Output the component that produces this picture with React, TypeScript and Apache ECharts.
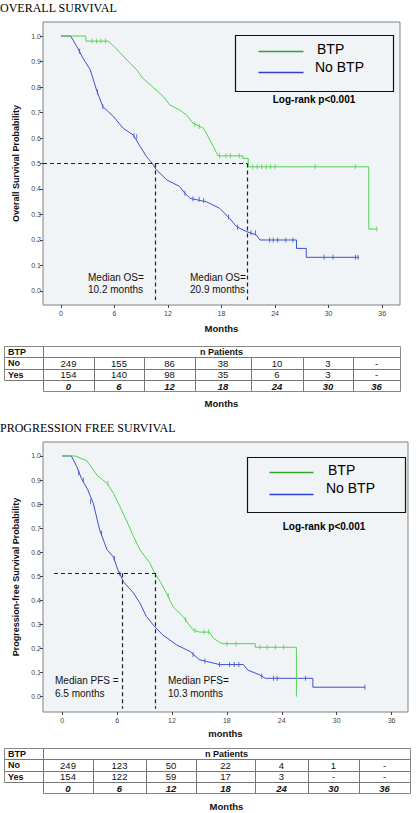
import React, { useEffect, useRef } from "react";
import * as echarts from "echarts";

// ---------- DATA ----------
const monthTicks = [0, 6, 12, 18, 24, 30, 36];
const probTicks = [0, 0.1, 0.2, 0.3, 0.4, 0.5, 0.6, 0.7, 0.8, 0.9, 1.0];

// Overall survival – BTP (green)
const osBTP: [number, number][] = [
  [0, 1], [2.8, 1], [2.8, 0.98], [5.3, 0.98], [6, 0.958], [7.4, 0.906], [8.5, 0.867],
  [9.2, 0.834], [10.3, 0.8], [11.5, 0.762], [12.2, 0.73], [13.3, 0.71], [14.1, 0.69],
  [14.8, 0.658], [16, 0.638], [16.5, 0.605], [17.1, 0.566], [17.6, 0.53], [20.4, 0.53],
  [20.4, 0.52], [21.0, 0.52], [21.0, 0.487], [34.5, 0.487], [34.5, 0.243], [35.4, 0.243],
];
// Overall survival – No BTP (blue)
const osNoBTP: [number, number][] = [
  [0, 1], [1.1, 1.0], [1.8, 0.958], [2.5, 0.912], [3.3, 0.867], [4.0, 0.788], [4.7, 0.723],
  [5.9, 0.684], [7.0, 0.638], [8.1, 0.612], [8.9, 0.566], [9.6, 0.527], [10.3, 0.498],
  [10.7, 0.475], [11.9, 0.435], [13.3, 0.41], [13.9, 0.383], [14.5, 0.363], [16.3, 0.35],
  [17.8, 0.324], [18.9, 0.285], [19.7, 0.252], [20.8, 0.233], [21.9, 0.22], [22.3, 0.2],
  [26.4, 0.2], [26.4, 0.167], [27.5, 0.167], [27.5, 0.132], [33.4, 0.132],
];
const osBTPCensor: [number, number][] = [
  [3.5, 0.98], [4, 0.98], [4.5, 0.98], [5, 0.98], [15, 0.655], [15.5, 0.645], [17.8, 0.53],
  [18.5, 0.53], [19, 0.53], [20, 0.53], [21.5, 0.487], [22, 0.487], [22.5, 0.487], [23, 0.487],
  [23.5, 0.487], [24, 0.487], [28.5, 0.487], [33, 0.487], [35.4, 0.243],
];
const osNoBTPCensor: [number, number][] = [
  [2.1, 0.94], [4.1, 0.78], [4.7, 0.723], [8.2, 0.61], [8.5, 0.605], [13.9, 0.383],
  [14.8, 0.362], [15.5, 0.36], [16, 0.355], [18.8, 0.29], [19.8, 0.25], [21.3, 0.228],
  [21.8, 0.228], [23.4, 0.2], [23.8, 0.2], [24.3, 0.2], [25.2, 0.2], [26, 0.2], [29.5, 0.132],
  [30.5, 0.132], [33, 0.132], [33.3, 0.132],
];

// Progression free survival – BTP (green)
const pfsBTP: [number, number][] = [
  [0, 1], [1.4, 1.0], [2.7, 0.98], [3.8, 0.92], [4.9, 0.886], [5.6, 0.845], [6.3, 0.79],
  [7.0, 0.734], [7.8, 0.665], [8.5, 0.61], [9.6, 0.554], [10.1, 0.513], [10.7, 0.478],
  [11.4, 0.43], [12.1, 0.374], [13.2, 0.333], [14.3, 0.277], [15.0, 0.268], [16.1, 0.268],
  [16.5, 0.243], [17.2, 0.226], [17.5, 0.22], [21.1, 0.22], [21.1, 0.205], [25.6, 0.205],
  [25.6, 0.0],
];
// Progression free survival – No BTP (blue)
const pfsNoBTP: [number, number][] = [
  [0, 1], [1.0, 1.0], [1.6, 0.955], [2.1, 0.907], [2.8, 0.859], [3.4, 0.803], [4.1, 0.692],
  [4.9, 0.61], [5.6, 0.58], [6.1, 0.525], [6.7, 0.477], [7.8, 0.43], [8.5, 0.388],
  [9.2, 0.333], [10.1, 0.291], [11.0, 0.256], [12.5, 0.215], [14.0, 0.187], [15.0, 0.153],
  [15.8, 0.146], [17.2, 0.133], [19.8, 0.133], [20.3, 0.11], [21.6, 0.09], [22.2, 0.076],
  [27.4, 0.076], [27.4, 0.039], [33.1, 0.039],
];
const pfsBTPCensor: [number, number][] = [
  [5, 0.886], [11.6, 0.42], [13.5, 0.32], [14.5, 0.275], [15.5, 0.268], [16, 0.268],
  [18, 0.22], [19, 0.22], [21.6, 0.205], [22.4, 0.205], [23.3, 0.205], [24.2, 0.205],
];
const pfsNoBTPCensor: [number, number][] = [
  [1.8, 0.93], [2.3, 0.9], [3.1, 0.81], [4.3, 0.68], [5.7, 0.575], [6.3, 0.51], [14.3, 0.175],
  [15.6, 0.148], [17.2, 0.133], [18.3, 0.133], [18.8, 0.133], [19.3, 0.133], [21.8, 0.085],
  [23.1, 0.076], [23.5, 0.076], [26.6, 0.076], [33.1, 0.039],
];

// medians (drawn positions)
const osMedianNo = 10.6;
const osMedianYes = 20.9;
const osMedianLevel = 0.5;
const pfsMedianNo = 6.55;
const pfsMedianYes = 10.2;
const pfsMedianLevel = 0.513;

// number at risk tables
const tableTimes = ["0", "6", "12", "18", "24", "30", "36"];
const osNoCounts = ["249", "155", "86", "38", "10", "3", "-"];
const osYesCounts = ["154", "140", "98", "35", "6", "3", "-"];
const pfsNoCounts = ["249", "123", "50", "22", "4", "1", "-"];
const pfsYesCounts = ["154", "122", "59", "17", "3", "-", "-"];

// ---------- STYLE ----------
const SANS = "Liberation Sans, Arial, sans-serif";
const SERIF = "Liberation Serif, Times New Roman, serif";
const GREEN = "#52D452";
const BLUE = "#3D50CF";
const LEG_GREEN = "#2FA52F";
const LEG_BLUE = "#2B40D4";

function px(v: number) {
  return Math.round(v) + 0.5;
}

function lineEl(xa: number, ya: number, xb: number, yb: number, color = "#777", w = 1) {
  return {
    type: "line",
    silent: true,
    shape: { x1: px(xa), y1: px(ya), x2: px(xb), y2: px(yb) },
    style: { stroke: color, lineWidth: w },
  };
}

function textEl(x: number, y: number, text: string, opts: any = {}) {
  return {
    type: "text",
    silent: true,
    x,
    y,
    style: {
      text,
      fontFamily: SANS,
      fontSize: 9,
      fill: "#111",
      align: "center",
      verticalAlign: "middle",
      ...opts,
    },
  };
}

function tableEls(cols: number[], y0: number, rowH: number, no: string[], yes: string[], months: string, monthsY: number) {
  const els: any[] = [];
  const x0 = cols[0];
  const x1 = cols[1];
  const xr = cols[cols.length - 1];
  const ys = [0, 1, 2, 3, 4].map((i) => y0 + i * rowH);
  els.push(lineEl(x0, ys[0], xr, ys[0], "#888"));
  els.push(lineEl(x0, ys[1], xr, ys[1]));
  els.push(lineEl(x0, ys[2], xr, ys[2]));
  els.push(lineEl(x0, ys[3], xr, ys[3]));
  els.push(lineEl(x1, ys[4], xr, ys[4], "#888"));
  els.push(lineEl(x0, ys[0], x0, ys[3], "#888"));
  els.push(lineEl(x1, ys[0], x1, ys[4]));
  for (let c = 2; c < cols.length - 1; c++) els.push(lineEl(cols[c], ys[1], cols[c], ys[4]));
  els.push(lineEl(xr, ys[0], xr, ys[4], "#888"));
  const mid = (i: number) => (cols[i] + cols[i + 1]) / 2;
  const rowMid = (r: number) => ys[r] + rowH / 2 + 0.5;
  els.push(textEl(x0 + 4, rowMid(0), "BTP", { align: "left", fontWeight: "bold" }));
  els.push(textEl(x0 + 4, rowMid(1), "No", { align: "left", fontWeight: "bold" }));
  els.push(textEl(x0 + 4, rowMid(2), "Yes", { align: "left", fontWeight: "bold" }));
  els.push(textEl((x1 + xr) / 2, rowMid(0), "n Patients", { fontWeight: "bold" }));
  for (let i = 0; i < no.length; i++) {
    els.push(textEl(mid(i + 1), rowMid(1), no[i], { fontSize: 9.5 }));
    els.push(textEl(mid(i + 1), rowMid(2), yes[i], { fontSize: 9.5 }));
    els.push(textEl(mid(i + 1), rowMid(3), tableTimes[i], { fontWeight: "bold", fontStyle: "italic", fontSize: 9.5 }));
  }
  els.push(textEl((x1 + xr) / 2, monthsY, months, { fontWeight: "bold", fontSize: 9.5 }));
  return els;
}

function legendEls(bx: number, by: number, bw: number, bh: number, lineX1: number, lineX2: number, gy: number, byl: number, tx: number, t1y: number, t2y: number, lrx: number, lry: number) {
  return [
    {
      type: "rect",
      silent: true,
      shape: { x: px(bx), y: px(by), width: bw, height: bh },
      style: { fill: "none", stroke: "#111", lineWidth: 1.2 },
    },
    lineEl(lineX1, gy, lineX2, gy, LEG_GREEN, 1.6),
    lineEl(lineX1, byl, lineX2, byl, LEG_BLUE, 1.6),
    textEl(tx, t1y, "BTP", { align: "left", fontSize: 14, fill: "#000" }),
    textEl(tx - 2, t2y, "No BTP", { align: "left", fontSize: 14, fill: "#000" }),
    textEl(lrx, lry, "Log-rank p<0.001", { fontWeight: "bold", fontSize: 10, fill: "#000" }),
  ];
}

function xAxisCfg(gridIndex: number, min: number, max: number, name: string, nameGap: number) {
  return {
    gridIndex,
    type: "value",
    min,
    max,
    position: "bottom",
    axisLine: { show: false, onZero: false },
    splitLine: { show: false },
    axisTick: { show: true, customValues: monthTicks, length: 3, lineStyle: { color: "#444" } },
    axisLabel: { customValues: monthTicks, fontSize: 7, color: "#444", margin: 5, fontFamily: SANS },
    name,
    nameLocation: "middle",
    nameGap,
    nameTextStyle: { fontWeight: "bold", fontSize: 9.5, color: "#111", fontFamily: SANS },
  };
}

function yAxisCfg(gridIndex: number, min: number, max: number, name: string) {
  return {
    gridIndex,
    type: "value",
    min,
    max,
    position: "left",
    axisLine: { show: false, onZero: false },
    splitLine: { show: false },
    axisTick: { show: true, customValues: probTicks, length: 3, lineStyle: { color: "#444" } },
    axisLabel: {
      customValues: probTicks,
      fontSize: 7,
      color: "#444",
      margin: 2,
      fontFamily: SANS,
      formatter: (v: number) => v.toFixed(1),
    },
    name,
    nameLocation: "middle",
    nameGap: 16,
    nameRotate: 90,
    nameTextStyle: { fontWeight: "bold", fontSize: 9, color: "#111", fontFamily: SANS },
  };
}

const dashStyle = { type: [4, 3], color: "#222", width: 1.2 };

function medianMarkLine(xStart: number, level: number, m1: number, m2: number, bottom: number) {
  return {
    silent: true,
    symbol: ["none", "none"],
    label: { show: false },
    lineStyle: dashStyle,
    animation: false,
    data: [
      [{ coord: [xStart, level] }, { coord: [m2, level] }],
      [{ coord: [m1, level] }, { coord: [m1, bottom] }],
      [{ coord: [m2, level] }, { coord: [m2, bottom] }],
    ],
  };
}

function curveSeries(idx: number, data: [number, number][], color: string, markLine?: any) {
  const s: any = {
    type: "line",
    xAxisIndex: idx,
    yAxisIndex: idx,
    data,
    showSymbol: false,
    symbol: "none",
    lineStyle: { color, width: 1 },
    silent: true,
  };
  if (markLine) s.markLine = markLine;
  return s;
}

function censorSeries(idx: number, data: [number, number][], color: string) {
  return {
    type: "scatter",
    xAxisIndex: idx,
    yAxisIndex: idx,
    data,
    symbol: "rect",
    symbolSize: [1, 5],
    itemStyle: { color },
    silent: true,
  };
}

export default function App() {
  const ref = useRef<HTMLDivElement>(null);
  useEffect(() => {
    if (!ref.current) return;
    const chart = echarts.init(ref.current, null, { renderer: "svg" });
    const graphics: any[] = [
      textEl(0, 8, "OVERALL SURVIVAL", { align: "left", fontFamily: SERIF, fontSize: 12, fill: "#000" }),
      textEl(0, 428, "PROGRESSION FREE SURVIVAL", { align: "left", fontFamily: SERIF, fontSize: 12, fill: "#000" }),
      ...legendEls(235, 35, 158, 56, 258, 303, 51, 72, 317, 49, 67, 314, 99),
      ...legendEls(247, 457, 158, 55, 269, 313, 472, 494, 328, 470, 488, 324, 526),
      textEl(88, 277, "Median OS=", { align: "left", fontSize: 10 }),
      textEl(88, 289, "10.2 months", { align: "left", fontSize: 10 }),
      textEl(190, 277, "Median OS=", { align: "left", fontSize: 10 }),
      textEl(190, 289, "20.9 months", { align: "left", fontSize: 10 }),
      textEl(55, 680, "Median PFS =", { align: "left", fontSize: 10 }),
      textEl(55, 693, "6.5 months", { align: "left", fontSize: 10 }),
      textEl(168, 680, "Median PFS=", { align: "left", fontSize: 10 }),
      textEl(168, 693, "10.3 months", { align: "left", fontSize: 10 }),
      ...tableEls([4, 43, 94, 144, 195, 251, 303, 353, 400], 346, 11.3, osNoCounts, osYesCounts, "Months", 403),
      ...tableEls([4, 43, 93, 146, 196, 255, 308, 359, 410], 748, 11.3, pfsNoCounts, pfsYesCounts, "Months", 806),
    ];
    chart.setOption({
      animation: false,
      backgroundColor: "#fff",
      grid: [
        { left: 43, top: 22, width: 357, height: 283, show: true, backgroundColor: "#F0F4F6", borderColor: "#808080", borderWidth: 1 },
        { left: 43, top: 442, width: 365, height: 270, show: true, backgroundColor: "#F0F4F6", borderColor: "#808080", borderWidth: 1 },
      ],
      xAxis: [
        xAxisCfg(0, -2, 38, "Months", 18),
        xAxisCfg(1, -2.1, 37.8, "months", 16),
      ],
      yAxis: [
        yAxisCfg(0, -0.055, 1.055, "Overall Survival Probability"),
        yAxisCfg(1, -0.064, 1.058, "Progression-free Survival Probability"),
      ],
      series: [
        curveSeries(0, osNoBTP, BLUE, medianMarkLine(-2, osMedianLevel, osMedianNo, osMedianYes, -0.035)),
        censorSeries(0, osNoBTPCensor, BLUE),
        curveSeries(0, osBTP, GREEN),
        censorSeries(0, osBTPCensor, GREEN),
        curveSeries(1, pfsNoBTP, BLUE, medianMarkLine(-0.9, pfsMedianLevel, pfsMedianNo, pfsMedianYes, -0.05)),
        censorSeries(1, pfsNoBTPCensor, BLUE),
        curveSeries(1, pfsBTP, GREEN),
        censorSeries(1, pfsBTPCensor, GREEN),
      ],
      graphic: graphics,
    });
    return () => chart.dispose();
  }, []);
  return (
    <div
      ref={ref}
      style={{ position: "fixed", left: 0, top: 0, width: 416, height: 813, background: "#fff" }}
    />
  );
}
